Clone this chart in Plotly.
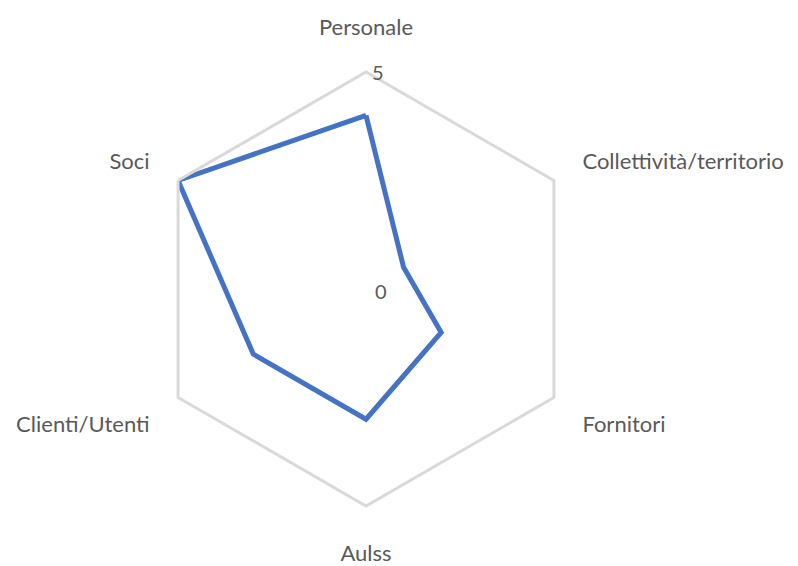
import plotly.graph_objects as go

categories = ["Personale", "Collettività/territorio", "Fornitori", "Aulss", "Clienti/Utenti", "Soci"]
values = [4, 1, 2, 3, 3, 5]
radial_ticks = [0, 5]

fig = go.Figure()
fig.add_trace(go.Scatterpolar(
    r=values + values[:1],
    theta=categories + categories[:1],
    mode="lines",
    line=dict(color="#4472C4", width=5),
    showlegend=False,
))

cx, cy, R = 358, 281, 217
W, H = 798, 566
# rendered polar centre / radius (px) used to place radial tick labels
pc_x, pc_y, pR = 365, 288, 217
for v in radial_ticks:
    fig.add_annotation(
        x=(pc_x - 3 + (3 if v == 0 else 0)) / W,
        y=(H - (pc_y - pR * v / 5 - 7 + (2 if v == 0 else 0))) / H,
        xref="paper", yref="paper",
        text=str(v), showarrow=False,
        xanchor="left", yanchor="middle",
        font=dict(size=20, color="#595959"),
    )

fig.update_layout(
    width=W, height=H,
    margin=dict(l=0, r=0, t=0, b=0),
    paper_bgcolor="white",
    font=dict(family="Lato, 'Open Sans', sans-serif", size=22, color="#595959"),
    polar=dict(
        domain=dict(x=[(cx - R) / W, (cx + R) / W], y=[(H - cy - R) / H, (H - cy + R) / H]),
        gridshape="linear",
        bgcolor="white",
        angularaxis=dict(
            direction="clockwise", rotation=90,
            showgrid=False, showline=True, linecolor="#d9d9d9", linewidth=3,
            ticks="outside", ticklen=27, tickcolor="rgba(0,0,0,0)",
            tickfont=dict(size=22, color="#595959"),
        ),
        radialaxis=dict(
            range=[0, 5], showticklabels=False,
            showgrid=False, showline=False, ticks="",
        ),
    ),
)
fig.write_html("out.html")
